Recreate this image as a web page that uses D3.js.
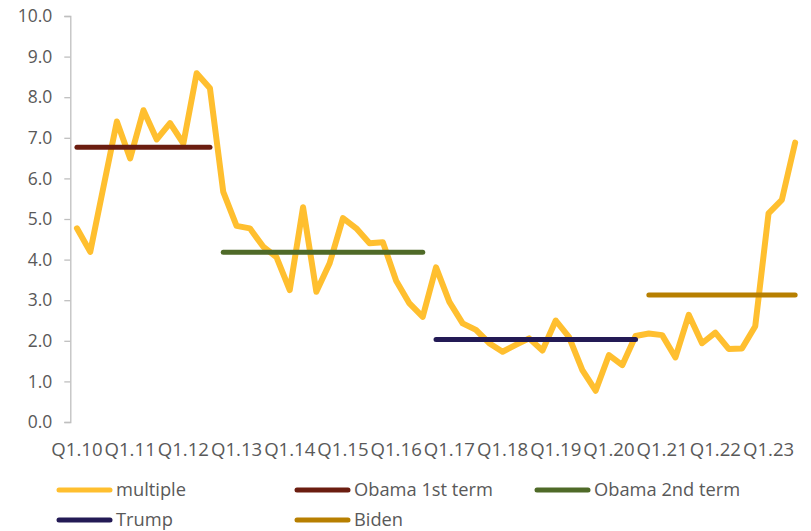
<!DOCTYPE html>
<html>
<head>
<meta charset="utf-8">
<script src="https://cdn.jsdelivr.net/npm/d3@7"></script>
<style>
  html, body { margin: 0; padding: 0; background: #ffffff; }
  svg { display: block; }
  text { font-family: "Open Sans", "Noto Sans", sans-serif; fill: #595959; }
</style>
</head>
<body>
<svg id="chart" width="811" height="531"></svg>
<script>
// Quarterly categories
const quarters = [
  "Q1.10","Q2.10","Q3.10","Q4.10","Q1.11","Q2.11","Q3.11","Q4.11",
  "Q1.12","Q2.12","Q3.12","Q4.12","Q1.13","Q2.13","Q3.13","Q4.13",
  "Q1.14","Q2.14","Q3.14","Q4.14","Q1.15","Q2.15","Q3.15","Q4.15",
  "Q1.16","Q2.16","Q3.16","Q4.16","Q1.17","Q2.17","Q3.17","Q4.17",
  "Q1.18","Q2.18","Q3.18","Q4.18","Q1.19","Q2.19","Q3.19","Q4.19",
  "Q1.20","Q2.20","Q3.20","Q4.20","Q1.21","Q2.21","Q3.21","Q4.21",
  "Q1.22","Q2.22","Q3.22","Q4.22","Q1.23","Q2.23","Q3.23"
];

// "multiple" series, one value per quarter
const multiple = [
  4.77, 4.19, 5.80, 7.40, 6.49, 7.68, 6.96, 7.36, 6.86, 8.59,
  8.22, 5.67, 4.83, 4.77, 4.32, 4.06, 3.25, 5.29, 3.21, 3.91,
  5.02, 4.77, 4.40, 4.43, 3.48, 2.92, 2.59, 3.81, 2.96, 2.43,
  2.27, 1.94, 1.73, 1.90, 2.06, 1.76, 2.50, 2.09, 1.28, 0.77,
  1.65, 1.40, 2.12, 2.18, 2.14, 1.59, 2.64, 1.94, 2.20, 1.80,
  1.81, 2.36, 5.14, 5.47, 6.88
];

// Presidential terms: level of each term line and the quarters it spans
const termNames  = ["Obama 1st term", "Obama 2nd term", "Trump", "Biden"];
const termValues = [6.77, 4.18, 2.03, 3.13];
const termStart  = ["Q1.10", "Q4.12", "Q4.16", "Q4.20"];
const termEnd    = ["Q3.12", "Q3.16", "Q3.20", "Q3.23"];

// Axis ticks
const yTicks = [0, 1, 2, 3, 4, 5, 6, 7, 8, 9, 10];
const xTickLabels = ["Q1.10","Q1.11","Q1.12","Q1.13","Q1.14","Q1.15","Q1.16",
                     "Q1.17","Q1.18","Q1.19","Q1.20","Q1.21","Q1.22","Q1.23"];

const colors = {
  "multiple": "#FFBF2F",
  "Obama 1st term": "#6B1D10",
  "Obama 2nd term": "#4F6A28",
  "Trump": "#231A55",
  "Biden": "#B77F00"
};

const svg = d3.select("#chart");

const plot = { left: 70.3, right: 801.8, top: 16, bottom: 422 };

const x = d3.scaleBand().domain(quarters).range([plot.left, plot.right]).padding(0);
const xc = q => x(q) + x.bandwidth() / 2;
const y = d3.scaleLinear().domain([0, 10]).range([plot.bottom, plot.top]);

// Y axis
const yAxis = d3.axisLeft(y).tickValues(yTicks).tickSize(6).tickPadding(12)
  .tickFormat(d3.format(".1f"));
const gy = svg.append("g").attr("transform", `translate(${plot.left},0)`).call(yAxis);
gy.select(".domain").attr("stroke", "#BFBFBF").attr("stroke-width", 1.3);
gy.selectAll(".tick line").attr("stroke", "#BFBFBF").attr("stroke-width", 1.3);
gy.selectAll(".tick text")
  .style("font-family", '"Open Sans", "Noto Sans", sans-serif')
  .style("font-size", "17.5px").attr("fill", "#595959");

// X axis labels (every fourth quarter), no axis line
const xAxis = d3.axisBottom(x).tickValues(xTickLabels).tickSize(0).tickPadding(0);
const gx = svg.append("g").attr("transform", `translate(0,${plot.bottom})`).call(xAxis);
gx.select(".domain").remove();
gx.selectAll(".tick text")
  .attr("y", 34)
  .attr("dy", 0)
  .style("font-family", '"Open Sans", "Noto Sans", sans-serif')
  .style("font-size", "18.6px").attr("fill", "#595959");

// Multiple line
const line = d3.line()
  .x((d, i) => xc(quarters[i]))
  .y(d => y(d));

svg.append("path")
  .datum(multiple)
  .attr("fill", "none")
  .attr("stroke", colors["multiple"])
  .attr("stroke-width", 6)
  .attr("stroke-linejoin", "round")
  .attr("stroke-linecap", "round")
  .attr("d", line);

// Term lines
termNames.forEach((name, i) => {
  const i0 = quarters.indexOf(termStart[i]);
  const i1 = quarters.indexOf(termEnd[i]);
  const pts = quarters.slice(i0, i1 + 1).map(q => [xc(q), y(termValues[i])]);
  svg.append("path")
    .attr("fill", "none")
    .attr("stroke", colors[name])
    .attr("stroke-width", 5)
    .attr("stroke-linecap", "round")
    .attr("d", d3.line()(pts));
});

// Legend
const legendItems = [
  { name: "multiple", col: 0, row: 0 },
  { name: "Obama 1st term", col: 1, row: 0 },
  { name: "Obama 2nd term", col: 2, row: 0 },
  { name: "Trump", col: 0, row: 1 },
  { name: "Biden", col: 1, row: 1 }
];
const colX = [57, 295, 535];
const rowY = [490, 520];

const lg = svg.append("g");
legendItems.forEach(it => {
  const lx = colX[it.col], ly = rowY[it.row];
  lg.append("line")
    .attr("x1", lx + 2).attr("x2", lx + 53)
    .attr("y1", ly).attr("y2", ly)
    .attr("stroke", colors[it.name])
    .attr("stroke-width", 5)
    .attr("stroke-linecap", "round");
  lg.append("text")
    .attr("x", lx + 59).attr("y", ly)
    .attr("dy", "0.35em")
    .style("font-size", "18.3px")
    .text(it.name);
});
</script>
</body>
</html>
